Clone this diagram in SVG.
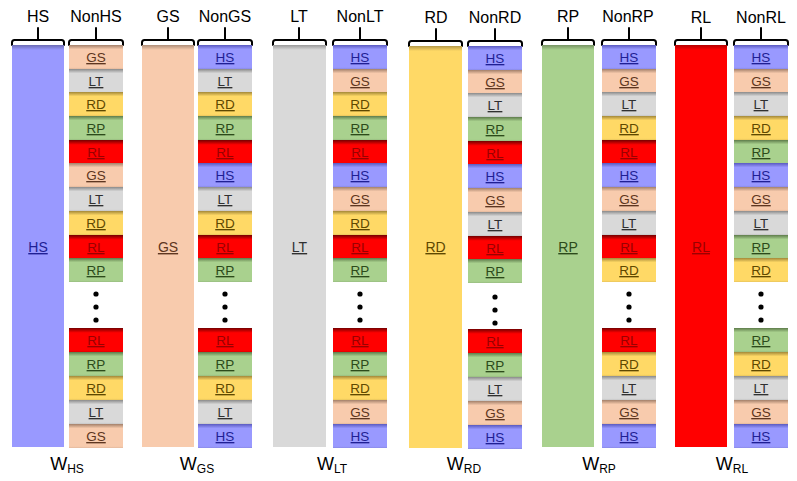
<svg xmlns="http://www.w3.org/2000/svg" width="797" height="481" viewBox="0 0 797 481">
<defs>
<linearGradient id="gHS" x1="0" y1="0" x2="0" y2="1"><stop offset="0" stop-color="#5a5ac0"/><stop offset="0.18" stop-color="#9999ff"/><stop offset="0.93" stop-color="#9999ff"/><stop offset="1" stop-color="#8a8ae6"/></linearGradient>
<linearGradient id="gGS" x1="0" y1="0" x2="0" y2="1"><stop offset="0" stop-color="#a3806a"/><stop offset="0.18" stop-color="#f8cbad"/><stop offset="0.93" stop-color="#f8cbad"/><stop offset="1" stop-color="#e3b99d"/></linearGradient>
<linearGradient id="gLT" x1="0" y1="0" x2="0" y2="1"><stop offset="0" stop-color="#8a8a8a"/><stop offset="0.18" stop-color="#d9d9d9"/><stop offset="0.93" stop-color="#d9d9d9"/><stop offset="1" stop-color="#c6c6c6"/></linearGradient>
<linearGradient id="gRD" x1="0" y1="0" x2="0" y2="1"><stop offset="0" stop-color="#a38838"/><stop offset="0.18" stop-color="#ffd966"/><stop offset="0.93" stop-color="#ffd966"/><stop offset="1" stop-color="#e8c55c"/></linearGradient>
<linearGradient id="gRP" x1="0" y1="0" x2="0" y2="1"><stop offset="0" stop-color="#5e7c4b"/><stop offset="0.18" stop-color="#a9d18e"/><stop offset="0.93" stop-color="#a9d18e"/><stop offset="1" stop-color="#98bd80"/></linearGradient>
<linearGradient id="gRL" x1="0" y1="0" x2="0" y2="1"><stop offset="0" stop-color="#740000"/><stop offset="0.2" stop-color="#ff0000"/><stop offset="0.93" stop-color="#ff0000"/><stop offset="1" stop-color="#e00000"/></linearGradient>
<linearGradient id="top" x1="0" y1="0" x2="0" y2="1"><stop offset="0" stop-color="#000" stop-opacity="0.3"/><stop offset="1" stop-color="#000" stop-opacity="0"/></linearGradient>
</defs>
<style>
.lab{font-family:"Liberation Sans",Arial,sans-serif;font-size:16px;fill:#000;text-anchor:middle}
.w{font-family:"Liberation Sans",Arial,sans-serif;font-size:18px;fill:#000;text-anchor:middle}
.t{font-family:"Liberation Sans",Arial,sans-serif;font-size:13.5px;text-anchor:middle;text-decoration:underline}
.bt{font-family:"Liberation Sans",Arial,sans-serif;font-size:14px;text-anchor:middle;text-decoration:underline}
.brace{fill:none;stroke:#000;stroke-width:2;stroke-linejoin:round;stroke-linecap:round}
.hs{fill:url(#gHS)}.gs{fill:url(#gGS)}.lt{fill:url(#gLT)}.rd{fill:url(#gRD)}.rp{fill:url(#gRP)}.rl{fill:url(#gRL)}
.ths{fill:#1f1f94}.tgs{fill:#5e3620}.tlt{fill:#303030}.trd{fill:#5e4800}.trp{fill:#2c4a1a}.trl{fill:#9a0000}
.band{fill:url(#top)}
.dot{fill:#000}
</style>

<g id="group-HS">
<text class="lab" x="38" y="22">HS</text>
<text class="lab" x="96" y="22">NonHS</text>
<path class="brace" d="M12 45V42.5Q12 40 14.5 40H61.5Q64 40 64 42.5V45M38 40V28"/>
<path class="brace" d="M69 45V42.5Q69 40 71.5 40H120.5Q123 40 123 42.5V45M96 40V28"/>
<rect x="12" y="45" width="52" height="402" fill="#9999ff"/>
<rect class="band" x="12" y="45" width="52" height="5"/>
<text class="bt ths" x="38" y="252">HS</text>
<g transform="translate(69,0)">
<rect class="gs" y="45" width="54" height="24"/><text class="t tgs" x="27" y="62">GS</text>
<rect class="lt" y="69" width="54" height="24"/><text class="t tlt" x="27" y="86">LT</text>
<rect class="rd" y="92" width="54" height="24"/><text class="t trd" x="27" y="109">RD</text>
<rect class="rp" y="116" width="54" height="24"/><text class="t trp" x="27" y="133">RP</text>
<rect class="rl" y="140" width="54" height="24"/><text class="t trl" x="27" y="157">RL</text>
<rect class="gs" y="163" width="54" height="24"/><text class="t tgs" x="27" y="180">GS</text>
<rect class="lt" y="187" width="54" height="24"/><text class="t tlt" x="27" y="204">LT</text>
<rect class="rd" y="211" width="54" height="24"/><text class="t trd" x="27" y="228">RD</text>
<rect class="rl" y="235" width="54" height="24"/><text class="t trl" x="27" y="252">RL</text>
<rect class="rp" y="258" width="54" height="24"/><text class="t trp" x="27" y="275">RP</text>
<circle class="dot" cx="27" cy="294" r="2.6"/><circle class="dot" cx="27" cy="307" r="2.6"/><circle class="dot" cx="27" cy="320" r="2.6"/>
<rect class="rl" y="328" width="54" height="24"/><text class="t trl" x="27" y="345">RL</text>
<rect class="rp" y="352" width="54" height="24"/><text class="t trp" x="27" y="369">RP</text>
<rect class="rd" y="376" width="54" height="24"/><text class="t trd" x="27" y="393">RD</text>
<rect class="lt" y="400" width="54" height="24"/><text class="t tlt" x="27" y="417">LT</text>
<rect class="gs" y="424" width="54" height="24"/><text class="t tgs" x="27" y="441">GS</text>
</g>
<text class="w" x="67" y="470">W<tspan font-size="12" dy="3">HS</tspan></text>
</g>

<g id="group-GS">
<text class="lab" x="168" y="22">GS</text>
<text class="lab" x="225" y="22">NonGS</text>
<path class="brace" d="M142 45V42.5Q142 40 144.5 40H191.5Q194 40 194 42.5V45M168 40V28"/>
<path class="brace" d="M198 45V42.5Q198 40 200.5 40H249.5Q252 40 252 42.5V45M225 40V28"/>
<rect x="142" y="45" width="52" height="402" fill="#f8cbad"/>
<rect class="band" x="142" y="45" width="52" height="5"/>
<text class="bt tgs" x="168" y="252">GS</text>
<g transform="translate(198,0)">
<rect class="hs" y="45" width="54" height="24"/><text class="t ths" x="27" y="62">HS</text>
<rect class="lt" y="69" width="54" height="24"/><text class="t tlt" x="27" y="86">LT</text>
<rect class="rd" y="92" width="54" height="24"/><text class="t trd" x="27" y="109">RD</text>
<rect class="rp" y="116" width="54" height="24"/><text class="t trp" x="27" y="133">RP</text>
<rect class="rl" y="140" width="54" height="24"/><text class="t trl" x="27" y="157">RL</text>
<rect class="hs" y="163" width="54" height="24"/><text class="t ths" x="27" y="180">HS</text>
<rect class="lt" y="187" width="54" height="24"/><text class="t tlt" x="27" y="204">LT</text>
<rect class="rd" y="211" width="54" height="24"/><text class="t trd" x="27" y="228">RD</text>
<rect class="rl" y="235" width="54" height="24"/><text class="t trl" x="27" y="252">RL</text>
<rect class="rp" y="258" width="54" height="24"/><text class="t trp" x="27" y="275">RP</text>
<circle class="dot" cx="27" cy="294" r="2.6"/><circle class="dot" cx="27" cy="307" r="2.6"/><circle class="dot" cx="27" cy="320" r="2.6"/>
<rect class="rl" y="328" width="54" height="24"/><text class="t trl" x="27" y="345">RL</text>
<rect class="rp" y="352" width="54" height="24"/><text class="t trp" x="27" y="369">RP</text>
<rect class="rd" y="376" width="54" height="24"/><text class="t trd" x="27" y="393">RD</text>
<rect class="lt" y="400" width="54" height="24"/><text class="t tlt" x="27" y="417">LT</text>
<rect class="hs" y="424" width="54" height="24"/><text class="t ths" x="27" y="441">HS</text>
</g>
<text class="w" x="197" y="470">W<tspan font-size="12" dy="3">GS</tspan></text>
</g>

<g id="group-LT">
<text class="lab" x="299" y="22">LT</text>
<text class="lab" x="360" y="22">NonLT</text>
<path class="brace" d="M273 45V42.5Q273 40 275.5 40H323.5Q326 40 326 42.5V45M299 40V28"/>
<path class="brace" d="M333 45V42.5Q333 40 335.5 40H384.5Q387 40 387 42.5V45M360 40V28"/>
<rect x="273" y="45" width="53" height="402" fill="#d9d9d9"/>
<rect class="band" x="273" y="45" width="53" height="5"/>
<text class="bt tlt" x="299.5" y="252">LT</text>
<g transform="translate(333,0)">
<rect class="hs" y="45" width="54" height="24"/><text class="t ths" x="27" y="62">HS</text>
<rect class="gs" y="69" width="54" height="24"/><text class="t tgs" x="27" y="86">GS</text>
<rect class="rd" y="92" width="54" height="24"/><text class="t trd" x="27" y="109">RD</text>
<rect class="rp" y="116" width="54" height="24"/><text class="t trp" x="27" y="133">RP</text>
<rect class="rl" y="140" width="54" height="24"/><text class="t trl" x="27" y="157">RL</text>
<rect class="hs" y="163" width="54" height="24"/><text class="t ths" x="27" y="180">HS</text>
<rect class="gs" y="187" width="54" height="24"/><text class="t tgs" x="27" y="204">GS</text>
<rect class="rd" y="211" width="54" height="24"/><text class="t trd" x="27" y="228">RD</text>
<rect class="rl" y="235" width="54" height="24"/><text class="t trl" x="27" y="252">RL</text>
<rect class="rp" y="258" width="54" height="24"/><text class="t trp" x="27" y="275">RP</text>
<circle class="dot" cx="27" cy="294" r="2.6"/><circle class="dot" cx="27" cy="307" r="2.6"/><circle class="dot" cx="27" cy="320" r="2.6"/>
<rect class="rl" y="328" width="54" height="24"/><text class="t trl" x="27" y="345">RL</text>
<rect class="rp" y="352" width="54" height="24"/><text class="t trp" x="27" y="369">RP</text>
<rect class="rd" y="376" width="54" height="24"/><text class="t trd" x="27" y="393">RD</text>
<rect class="gs" y="400" width="54" height="24"/><text class="t tgs" x="27" y="417">GS</text>
<rect class="hs" y="424" width="54" height="24"/><text class="t ths" x="27" y="441">HS</text>
</g>
<text class="w" x="332" y="470">W<tspan font-size="12" dy="3">LT</tspan></text>
</g>

<g id="group-RD">
<text class="lab" x="436" y="23">RD</text>
<text class="lab" x="495" y="23">NonRD</text>
<path class="brace" d="M409 46V43.5Q409 41 411.5 41H459.5Q462 41 462 43.5V46M436 41V29"/>
<path class="brace" d="M468 46V43.5Q468 41 470.5 41H519.5Q522 41 522 43.5V46M495 41V29"/>
<rect x="409" y="46" width="53" height="402" fill="#ffd966"/>
<rect class="band" x="409" y="46" width="53" height="5"/>
<text class="bt trd" x="435.5" y="252">RD</text>
<g transform="translate(468,1)">
<rect class="hs" y="45" width="54" height="24"/><text class="t ths" x="27" y="62">HS</text>
<rect class="gs" y="69" width="54" height="24"/><text class="t tgs" x="27" y="86">GS</text>
<rect class="lt" y="92" width="54" height="24"/><text class="t tlt" x="27" y="109">LT</text>
<rect class="rp" y="116" width="54" height="24"/><text class="t trp" x="27" y="133">RP</text>
<rect class="rl" y="140" width="54" height="24"/><text class="t trl" x="27" y="157">RL</text>
<rect class="hs" y="163" width="54" height="24"/><text class="t ths" x="27" y="180">HS</text>
<rect class="gs" y="187" width="54" height="24"/><text class="t tgs" x="27" y="204">GS</text>
<rect class="lt" y="211" width="54" height="24"/><text class="t tlt" x="27" y="228">LT</text>
<rect class="rl" y="235" width="54" height="24"/><text class="t trl" x="27" y="252">RL</text>
<rect class="rp" y="258" width="54" height="24"/><text class="t trp" x="27" y="275">RP</text>
<circle class="dot" cx="27" cy="296" r="2.6"/><circle class="dot" cx="27" cy="309" r="2.6"/><circle class="dot" cx="27" cy="322" r="2.6"/>
<rect class="rl" y="328" width="54" height="24"/><text class="t trl" x="27" y="345">RL</text>
<rect class="rp" y="352" width="54" height="24"/><text class="t trp" x="27" y="369">RP</text>
<rect class="lt" y="376" width="54" height="24"/><text class="t tlt" x="27" y="393">LT</text>
<rect class="gs" y="400" width="54" height="24"/><text class="t tgs" x="27" y="417">GS</text>
<rect class="hs" y="424" width="54" height="24"/><text class="t ths" x="27" y="441">HS</text>
</g>
<text class="w" x="464" y="470">W<tspan font-size="12" dy="3">RD</tspan></text>
</g>

<g id="group-RP">
<text class="lab" x="568" y="22">RP</text>
<text class="lab" x="628" y="22">NonRP</text>
<path class="brace" d="M542 45V42.5Q542 40 544.5 40H591.5Q594 40 594 42.5V45M568 40V28"/>
<path class="brace" d="M602 45V42.5Q602 40 604.5 40H653.5Q656 40 656 42.5V45M629 40V28"/>
<rect x="542" y="45" width="52" height="402" fill="#a9d18e"/>
<rect class="band" x="542" y="45" width="52" height="5"/>
<text class="bt trp" x="568" y="252">RP</text>
<g transform="translate(602,0)">
<rect class="hs" y="45" width="54" height="24"/><text class="t ths" x="27" y="62">HS</text>
<rect class="gs" y="69" width="54" height="24"/><text class="t tgs" x="27" y="86">GS</text>
<rect class="lt" y="92" width="54" height="24"/><text class="t tlt" x="27" y="109">LT</text>
<rect class="rd" y="116" width="54" height="24"/><text class="t trd" x="27" y="133">RD</text>
<rect class="rl" y="140" width="54" height="24"/><text class="t trl" x="27" y="157">RL</text>
<rect class="hs" y="163" width="54" height="24"/><text class="t ths" x="27" y="180">HS</text>
<rect class="gs" y="187" width="54" height="24"/><text class="t tgs" x="27" y="204">GS</text>
<rect class="lt" y="211" width="54" height="24"/><text class="t tlt" x="27" y="228">LT</text>
<rect class="rl" y="235" width="54" height="24"/><text class="t trl" x="27" y="252">RL</text>
<rect class="rd" y="258" width="54" height="24"/><text class="t trd" x="27" y="275">RD</text>
<circle class="dot" cx="27" cy="294" r="2.6"/><circle class="dot" cx="27" cy="307" r="2.6"/><circle class="dot" cx="27" cy="320" r="2.6"/>
<rect class="rl" y="328" width="54" height="24"/><text class="t trl" x="27" y="345">RL</text>
<rect class="rd" y="352" width="54" height="24"/><text class="t trd" x="27" y="369">RD</text>
<rect class="lt" y="376" width="54" height="24"/><text class="t tlt" x="27" y="393">LT</text>
<rect class="gs" y="400" width="54" height="24"/><text class="t tgs" x="27" y="417">GS</text>
<rect class="hs" y="424" width="54" height="24"/><text class="t ths" x="27" y="441">HS</text>
</g>
<text class="w" x="599" y="470">W<tspan font-size="12" dy="3">RP</tspan></text>
</g>

<g id="group-RL">
<text class="lab" x="701" y="23">RL</text>
<text class="lab" x="761" y="23">NonRL</text>
<path class="brace" d="M675 45V42.5Q675 40 677.5 40H724.5Q727 40 727 42.5V45M701 40V28"/>
<path class="brace" d="M734 45V42.5Q734 40 736.5 40H785.5Q788 40 788 42.5V45M761 40V28"/>
<rect x="675" y="45" width="52" height="402" fill="#ff0000"/>
<rect class="band" x="675" y="45" width="52" height="5"/>
<text class="bt trl" x="701" y="252">RL</text>
<g transform="translate(734,0)">
<rect class="hs" y="45" width="54" height="24"/><text class="t ths" x="27" y="62">HS</text>
<rect class="gs" y="69" width="54" height="24"/><text class="t tgs" x="27" y="86">GS</text>
<rect class="lt" y="92" width="54" height="24"/><text class="t tlt" x="27" y="109">LT</text>
<rect class="rd" y="116" width="54" height="24"/><text class="t trd" x="27" y="133">RD</text>
<rect class="rp" y="140" width="54" height="24"/><text class="t trp" x="27" y="157">RP</text>
<rect class="hs" y="163" width="54" height="24"/><text class="t ths" x="27" y="180">HS</text>
<rect class="gs" y="187" width="54" height="24"/><text class="t tgs" x="27" y="204">GS</text>
<rect class="lt" y="211" width="54" height="24"/><text class="t tlt" x="27" y="228">LT</text>
<rect class="rp" y="235" width="54" height="24"/><text class="t trp" x="27" y="252">RP</text>
<rect class="rd" y="258" width="54" height="24"/><text class="t trd" x="27" y="275">RD</text>
<circle class="dot" cx="27" cy="294" r="2.6"/><circle class="dot" cx="27" cy="307" r="2.6"/><circle class="dot" cx="27" cy="320" r="2.6"/>
<rect class="rp" y="328" width="54" height="24"/><text class="t trp" x="27" y="345">RP</text>
<rect class="rd" y="352" width="54" height="24"/><text class="t trd" x="27" y="369">RD</text>
<rect class="lt" y="376" width="54" height="24"/><text class="t tlt" x="27" y="393">LT</text>
<rect class="gs" y="400" width="54" height="24"/><text class="t tgs" x="27" y="417">GS</text>
<rect class="hs" y="424" width="54" height="24"/><text class="t ths" x="27" y="441">HS</text>
</g>
<text class="w" x="732" y="470">W<tspan font-size="12" dy="3">RL</tspan></text>
</g>

<g id="connectors"></g>
</svg>
